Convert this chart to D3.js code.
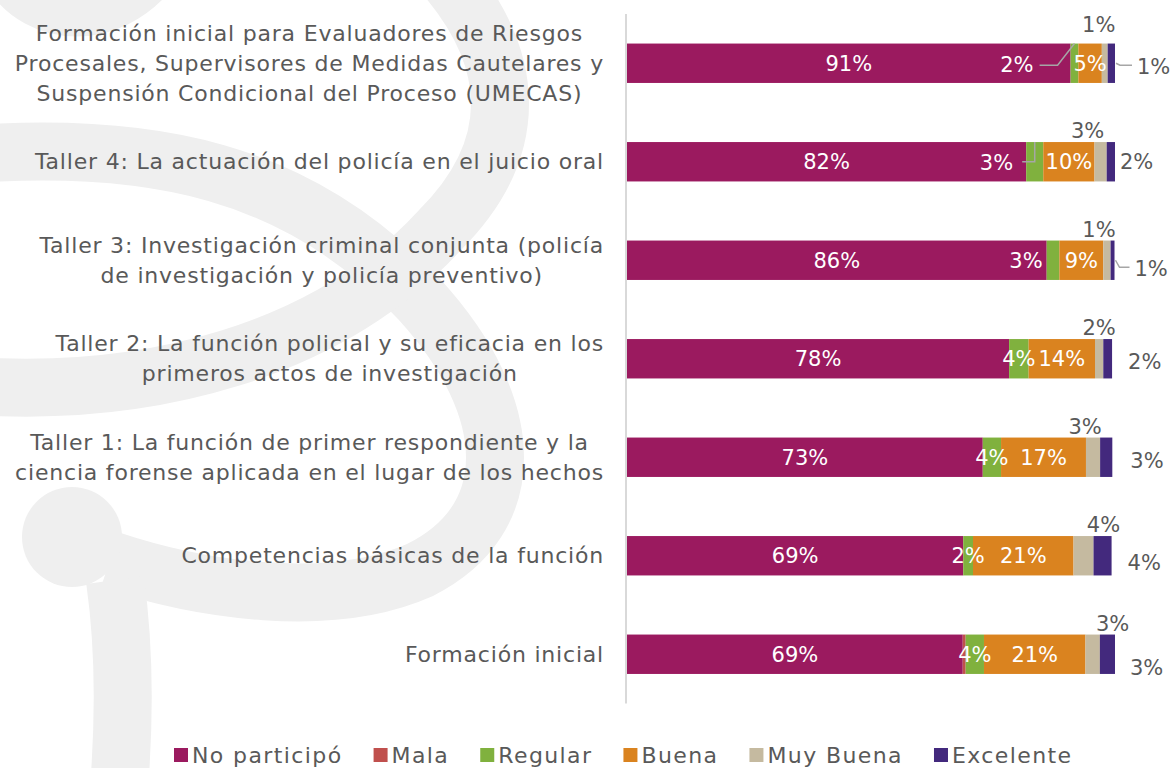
<!DOCTYPE html>
<html>
<head>
<meta charset="utf-8">
<script src="https://cdn.jsdelivr.net/npm/d3@7"></script>
<style>
  body { margin: 0; background: #fff; }
  svg text { font-family: "DejaVu Sans", sans-serif; }
</style>
</head>
<body>
<div id="chart-area"></div>
<script>
// categories (top to bottom), each split in the lines shown
var categories = [
	["Formación inicial para Evaluadores de Riesgos", "Procesales, Supervisores de Medidas Cautelares y", "Suspensión Condicional del Proceso (UMECAS)"],
	["Taller 4: La actuación del policía en el juicio oral"],
	["Taller 3: Investigación criminal conjunta (policía", "de investigación y policía preventivo)"],
	["Taller 2: La función policial y su eficacia en los", "primeros actos de investigación"],
	["Taller 1: La función de primer respondiente y la", "ciencia forense aplicada en el lugar de los hechos"],
	["Competencias básicas de la función"],
	["Formación inicial"]
];
var series = ["No participó", "Mala", "Regular", "Buena", "Muy Buena", "Excelente"];
var colors = ["#9b1a5f", "#c0504d", "#80b13e", "#da831f", "#c5baa0", "#43297d"];

// segment values (%)
var noParticipo = [90.9, 81.8, 86.0, 78.3, 72.9, 68.9, 68.8];
var mala        = [0, 0, 0, 0, 0, 0, 0.6];
var regular     = [1.6, 3.5, 2.6, 4.0, 3.75, 2.0, 3.75];
var buena       = [4.8, 10.5, 9.0, 13.6, 17.4, 20.6, 20.8];
var muyBuena    = [1.2, 2.5, 1.5, 1.7, 2.9, 4.1, 2.95];
var excelente   = [1.5, 1.7, 0.8, 1.8, 2.5, 3.7, 3.1];

// labels as printed on the chart
var npLabels   = ["91%", "82%", "86%", "78%", "73%", "69%", "69%"];
var regLabels  = ["2%", "3%", "3%", "4%", "4%", "2%", "4%"];
var buenaLabels = ["5%", "10%", "9%", "14%", "17%", "21%", "21%"];
var mbLabels   = ["1%", "3%", "1%", "2%", "3%", "4%", "3%"];
var exLabels   = ["1%", "2%", "1%", "2%", "3%", "4%", "3%"];

// label placement tweaks (layout only)
var regMode = ["leader", "leader", "left", "center", "center", "center", "center"];
var mbShift = [-6, -13, -8, 0, -8, 20, 20];
var exShift = [[22, 3, true], [5, 0, false], [20, 8, true], [16, 3, false], [18, 3, false], [16, 7, false], [15, 13, false]];

var width = 1171, height = 768;
var textGrey = "#595959";
var fs = 22;

var svg = d3.select("#chart-area").append("svg")
	.attr("width", width)
	.attr("height", height);

// watermark in the background
var wm = svg.append("g")
	.attr("fill", "none")
	.attr("stroke", "#efefef")
	.attr("stroke-width", 58);
wm.append("path").attr("d", "M -40 155 C 150 140, 300 170, 420 300 C 520 410, 520 520, 420 570 C 330 610, 200 590, 110 560");
wm.append("path").attr("d", "M -40 385 C 150 400, 330 350, 440 230 C 520 150, 520 60, 440 -30");
wm.append("path").attr("d", "M 115 580 C 125 650, 125 720, 118 800");
wm.append("path").attr("d", "M 10 -30 C 40 20, 110 20, 150 -30");
wm.append("circle").attr("cx", 72).attr("cy", 537).attr("r", 50).attr("fill", "#efefef").attr("stroke", "none");

var rows = categories.map(function(c, i){
	return {
		i: i,
		"No participó": noParticipo[i],
		"Mala": mala[i],
		"Regular": regular[i],
		"Buena": buena[i],
		"Muy Buena": muyBuena[i],
		"Excelente": excelente[i]
	};
});

var x = d3.scaleLinear().domain([0, 100]).range([627, 1115]);
var y = d3.scaleBand()
	.domain(d3.range(categories.length))
	.range([14, 703.5])
	.paddingInner(0.6)
	.paddingOuter(0.3);

var stacked = d3.stack().keys(series)(rows);

// category axis line
svg.append("line")
	.attr("x1", 626).attr("x2", 626)
	.attr("y1", 14).attr("y2", 703.5)
	.attr("stroke", "#d9d9d9")
	.attr("stroke-width", 2);

// bars
svg.selectAll("g.layer")
	.data(stacked)
	.enter().append("g")
		.attr("class", "layer")
		.attr("fill", function(d, i){ return colors[i]; })
	.selectAll("rect")
	.data(function(d){ return d; })
	.enter().append("rect")
		.attr("x", function(d){ return x(d[0]); })
		.attr("y", function(d, i){ return y(i); })
		.attr("width", function(d){ return x(d[1]) - x(d[0]); })
		.attr("height", y.bandwidth());

// category labels: block right aligned, lines centred within block
var lineH = 30;
categories.forEach(function(lines, i){
	var cy = y(i) + y.bandwidth() / 2;
	var g = svg.append("g");
	var texts = lines.map(function(l, k){
		return g.append("text")
			.attr("y", cy + (k - (lines.length - 1) / 2) * lineH)
			.attr("dy", "0.35em")
			.attr("text-anchor", "middle")
			.attr("font-size", fs)
			.attr("letter-spacing", 0.8)
			.attr("fill", textGrey)
			.text(l);
	});
	var maxW = d3.max(texts, function(t){ return t.node().getComputedTextLength(); });
	texts.forEach(function(t){ t.attr("x", 604 - maxW / 2); });
});

var labels = svg.append("g").attr("font-size", 21);
var leaderColor = "#a6a6a6";

rows.forEach(function(r, i){
	var top = y(i), cy = top + y.bandwidth() / 2;
	var s = function(k){ return stacked[series.indexOf(k)][i]; };

	// No participó
	var np = s("No participó");
	labels.append("text")
		.attr("x", (x(np[0]) + x(np[1])) / 2).attr("y", cy).attr("dy", "0.35em")
		.attr("text-anchor", "middle").attr("fill", "#fff")
		.text(npLabels[i]);

	// Regular
	var rg = s("Regular");
	if (regMode[i] === "center") {
		labels.append("text")
			.attr("x", (x(rg[0]) + x(rg[1])) / 2).attr("y", cy).attr("dy", "0.35em")
			.attr("text-anchor", "middle").attr("fill", "#fff")
			.text(regLabels[i]);
	} else if (regMode[i] === "left") {
		labels.append("text")
			.attr("x", x(rg[0]) - 4).attr("y", cy).attr("dy", "0.35em")
			.attr("text-anchor", "end").attr("fill", "#fff")
			.text(regLabels[i]);
	} else {
		var gap = i === 0 ? 37 : 13;
		var tx = x(rg[0]) - gap;
		labels.append("text")
			.attr("x", tx).attr("y", cy + 1).attr("dy", "0.35em")
			.attr("text-anchor", "end").attr("fill", "#fff")
			.text(regLabels[i]);
		var gx = (x(rg[0]) + x(rg[1])) / 2;
		var pts = i === 0
			? [[tx + 6, cy + 2], [tx + 24, cy + 2], [gx, top]]
			: [[tx + 9, cy], [gx, cy], [gx, top]];
		labels.append("path")
			.attr("d", d3.line()(pts))
			.attr("fill", "none").attr("stroke", leaderColor).attr("stroke-width", 1.5);
	}

	// Buena
	var bu = s("Buena");
	labels.append("text")
		.attr("x", (x(bu[0]) + x(bu[1])) / 2).attr("y", cy).attr("dy", "0.35em")
		.attr("text-anchor", "middle").attr("fill", "#fff")
		.text(buenaLabels[i]);

	// Muy Buena, above the bar
	var mb = s("Muy Buena");
	labels.append("text")
		.attr("x", (x(mb[0]) + x(mb[1])) / 2 + mbShift[i])
		.attr("y", top - (i === 0 ? 12 : 4))
		.attr("text-anchor", "middle").attr("fill", textGrey)
		.text(mbLabels[i]);

	// Excelente, right of the bar
	var ex = s("Excelente");
	var ex1 = x(ex[1]);
	var sh = exShift[i];
	labels.append("text")
		.attr("x", ex1 + sh[0]).attr("y", cy + sh[1]).attr("dy", "0.35em")
		.attr("text-anchor", "start").attr("fill", textGrey)
		.text(exLabels[i]);
	if (sh[2]) {
		labels.append("path")
			.attr("d", d3.line()([[ex1 + 1, cy], [ex1 + 5, cy + sh[1] - 1], [ex1 + sh[0] - 5, cy + sh[1] - 1]]))
			.attr("fill", "none").attr("stroke", leaderColor).attr("stroke-width", 1.5);
	}
});

// legend
var legend = svg.append("g").attr("font-size", fs).attr("letter-spacing", 1.4);
var lx = 174;
series.forEach(function(name, i){
	legend.append("rect")
		.attr("x", lx).attr("y", 748)
		.attr("width", 14).attr("height", 14)
		.attr("fill", colors[i]);
	var t = legend.append("text")
		.attr("x", lx + 18).attr("y", 755).attr("dy", "0.35em")
		.attr("fill", textGrey)
		.text(name);
	lx += 18 + t.node().getComputedTextLength() + 31;
});
</script>
</body>
</html>
